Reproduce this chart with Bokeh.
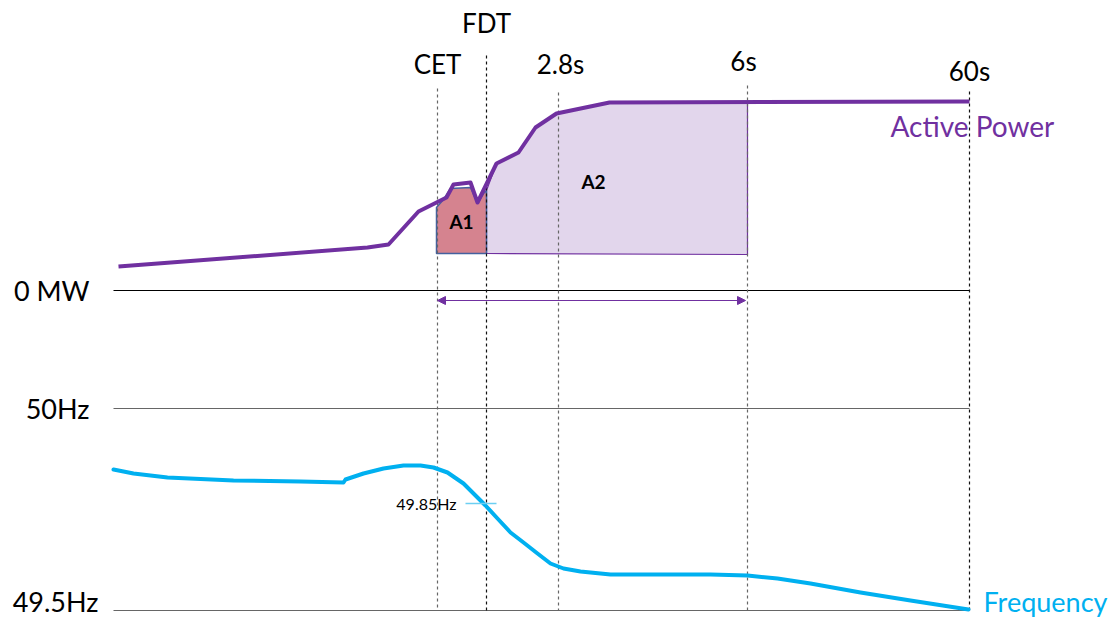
from bokeh.plotting import figure
from bokeh.models import Range1d, ColumnDataSource, Arrow, NormalHead
from bokeh.core.properties import value
from bokeh.embed import file_html
from bokeh.resources import INLINE

# ---- schematic data (chart units: x = time position, y = level position, drawn top-down) ----
# event markers
event_labels = ["CET", "FDT", "2.8s", "6s", "60s"]
event_x = [437, 486, 558, 747, 969]
event_top = [88, 55, 92, 85, 91]
event_label_y = [63, 22, 63, 60, 70]
event_label_x = [437, 486, 560, 743, 969]

# reference levels
level_labels = ["0 MW", "50Hz", "49.5Hz"]
level_y = [290, 408, 610]
level_label_y = [290, 408, 601]
level_x0 = 113
level_x1 = 969

# active power trace
power_x = [118, 367, 388, 418, 446, 453, 470, 477, 496, 518, 535, 556, 609, 969]
power_y = [266, 247, 244, 211, 197, 184, 182, 202, 163, 152, 127, 113, 102, 101]

# area A1 (CET -> FDT)
a1_x = [436, 436, 443, 450, 470, 477, 483, 486, 486]
a1_y = [253, 207, 199, 188, 187, 203, 193, 190, 253]

# area A2 (FDT -> 6s)
a2_x = [486, 496, 518, 535, 556, 609, 747, 747, 486]
a2_y = [190, 163, 152, 127, 113, 102, 101, 254, 253]

# frequency trace
freq_x = [113, 133, 167, 233, 300, 343, 345, 363, 383, 403, 420, 433, 447, 463, 477,
          485, 497, 510, 523, 537, 550, 563, 580, 610, 660, 710, 747, 777, 810, 860, 910, 968]
freq_y = [469, 473, 477, 480, 481, 482, 479, 473, 468, 465, 465, 467, 472, 483, 497,
          505, 518, 532, 542, 553, 563, 568, 571, 574, 574, 574, 575, 578, 583, 592, 600, 609]

# 49.85 Hz marker
marker_label = "49.85Hz"
marker_y = 503
marker_x0, marker_x1 = 465, 496

PURPLE = "#7030A0"
BLUE = "#00B0F0"
FONT = "Lato"

p = figure(width=1114, height=620, x_range=Range1d(0, 1114), y_range=Range1d(620, 0),
           output_backend="svg", toolbar_location=None, min_border=0)
p.axis.visible = False
p.grid.visible = False
p.outline_line_color = None

# areas
p.patch(a2_x, a2_y, fill_color="#E2D6EC", line_color=PURPLE, line_width=1.2)
p.patch(a1_x, a1_y, fill_color="#D5838F", line_color="#44619F", line_width=1.5)

# level lines
for i, yv in enumerate(level_y):
    p.line([level_x0, level_x1], [yv, yv], line_color="#000000" if i == 0 else "#666666", line_width=1.2)

# event dashed lines
for i, xv in enumerate(event_x):
    p.line([xv, xv], [event_top[i], level_y[-1]], line_color="#666666" if i in (0, 2, 3) else "#111111",
           line_width=1.2, line_dash="3 3")

# power
p.line(power_x, power_y, line_color=PURPLE, line_width=4, line_join="round")

# frequency
p.line(freq_x, freq_y, line_color=BLUE, line_width=4, line_join="round", line_cap="round")

# 49.85 marker
p.line([marker_x0, marker_x1], [marker_y, marker_y], line_color="#6CCFF2", line_width=1.5)

# double arrow
p.add_layout(Arrow(start=NormalHead(size=8, fill_color=PURPLE, line_color=PURPLE),
                   end=NormalHead(size=8, fill_color=PURPLE, line_color=PURPLE),
                   x_start=event_x[0], y_start=300, x_end=event_x[3] - 2, y_end=300,
                   line_color=PURPLE, line_width=1.2))

# texts
ev = ColumnDataSource(dict(x=event_label_x, y=event_label_y, t=event_labels))
p.text(x="x", y="y", text="t", source=ev, text_font=value(FONT), text_font_size="26px",
       text_align="center", text_baseline="middle", text_color="#000000")

lv = ColumnDataSource(dict(x=[89, 89, 98], y=level_label_y, t=level_labels))
p.text(x="x", y="y", text="t", source=lv, text_font=value(FONT), text_font_size="27px",
       text_align="right", text_baseline="middle", text_color="#000000")

p.text(x=[461, 593], y=[221, 181], text=["A1", "A2"], text_font=value(FONT), text_font_size="19px",
       text_font_style="bold", text_align="center", text_baseline="middle", text_color="#000000")

p.text(x=[456], y=[marker_y], text=[marker_label], text_font=value(FONT), text_font_size="16px",
       text_align="right", text_baseline="middle", text_color="#000000")

p.text(x=[890], y=[125], text=["Active Power"], text_font=value(FONT), text_font_size="28px",
       text_align="left", text_baseline="middle", text_color=PURPLE)
p.text(x=[983], y=[601], text=["Frequency"], text_font=value(FONT), text_font_size="27px",
       text_align="left", text_baseline="middle", text_color=BLUE)

open("out.html", "w").write(file_html(p, INLINE))
